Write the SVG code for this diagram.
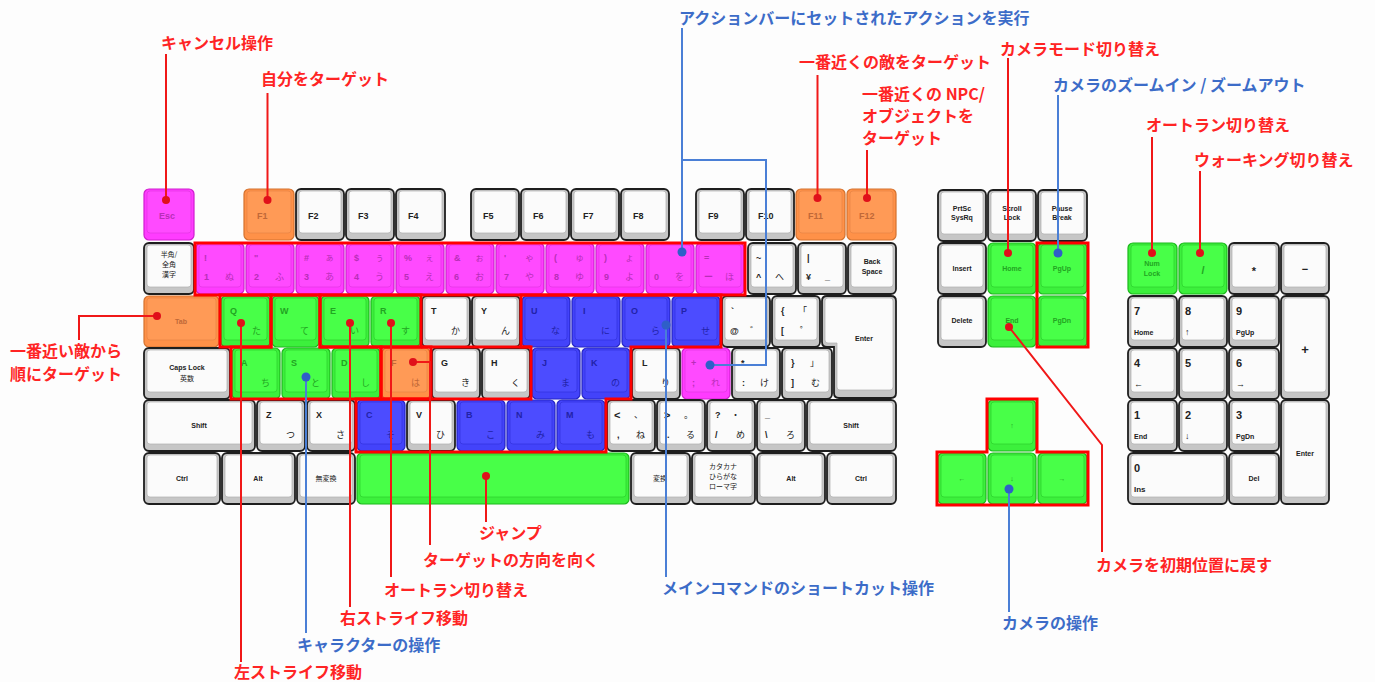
<svg xmlns="http://www.w3.org/2000/svg" width="1375" height="682" viewBox="0 0 1375 682">
<style>
.w0{fill:#c6c6c6;stroke:#1e1e1e;stroke-width:1.8}
.w1{fill:#fbfbfb;stroke:#b0b0b0;stroke-width:.7}
.p0{fill:#ff3cff;stroke:#cf1fcf;stroke-width:1.2}
.p1{fill:#ff4aff;stroke:#e233e2;stroke-width:.7}
.o0{fill:#ff9148;stroke:#d4722f;stroke-width:1.2}
.o1{fill:#ff9a56;stroke:#e68446;stroke-width:.7}
.g0{fill:#3cf03c;stroke:#1cb81c;stroke-width:1.2}
.g1{fill:#48ff48;stroke:#2bcf2b;stroke-width:.7}
.b0{fill:#4343fa;stroke:#2424c4;stroke-width:1.2}
.b1{fill:#4c4cff;stroke:#3232dc;stroke-width:.7}
.ro{fill:none;stroke:#ff0000;stroke-width:3}
.lr{fill:none;stroke:#f01818;stroke-width:2}
.lb{fill:none;stroke:#4a7fd6;stroke-width:2}
.dr{fill:#e0101a}
.db{fill:#2f5fc8}
.tr{font-family:"Noto Sans CJK JP",sans-serif;font-size:16px;font-weight:bold;fill:#ff2424}
.tb{font-family:"Noto Sans CJK JP",sans-serif;font-size:16px;font-weight:bold;fill:#3c6cc8}
.k{font-family:"Liberation Sans","Noto Sans CJK JP",sans-serif;font-size:9px;font-weight:bold;fill:#222}
.kj{font-family:"Noto Sans CJK JP",sans-serif;font-weight:normal}
.c{text-anchor:middle;font-size:7px}
.n{font-size:11px}
.cp{fill:#b82eb8}
.co{fill:#c06838}
.cg{fill:#22a422}
.cb{fill:#2222a8}
</style>
<rect width="1375" height="682" fill="#fdfdfd"/>

<!-- F row -->
<g id="key-esc"><rect class="p0" x="144" y="189" width="50" height="51" rx="5"/><rect class="p1" x="147" y="191" width="44" height="42" rx="3"/><text class="k cp" x="159" y="219">Esc</text></g>
<g id="key-f1"><rect class="o0" x="244" y="189" width="50" height="51" rx="5"/><rect class="o1" x="247" y="191" width="44" height="42" rx="3"/><text class="k co" x="257" y="219">F1</text></g>
<g id="key-f2"><rect class="w0" x="296" y="189" width="48" height="51" rx="5"/><rect class="w1" x="299" y="191" width="42" height="42" rx="3"/><text class="k" x="308" y="219">F2</text></g>
<g id="key-f3"><rect class="w0" x="346" y="189" width="48" height="51" rx="5"/><rect class="w1" x="349" y="191" width="42" height="42" rx="3"/><text class="k" x="358" y="219">F3</text></g>
<g id="key-f4"><rect class="w0" x="396" y="189" width="49" height="51" rx="5"/><rect class="w1" x="399" y="191" width="43" height="42" rx="3"/><text class="k" x="408" y="219">F4</text></g>
<g id="key-f5"><rect class="w0" x="471" y="189" width="48" height="51" rx="5"/><rect class="w1" x="474" y="191" width="42" height="42" rx="3"/><text class="k" x="483" y="219">F5</text></g>
<g id="key-f6"><rect class="w0" x="521" y="189" width="48" height="51" rx="5"/><rect class="w1" x="524" y="191" width="42" height="42" rx="3"/><text class="k" x="533" y="219">F6</text></g>
<g id="key-f7"><rect class="w0" x="571" y="189" width="48" height="51" rx="5"/><rect class="w1" x="574" y="191" width="42" height="42" rx="3"/><text class="k" x="583" y="219">F7</text></g>
<g id="key-f8"><rect class="w0" x="621" y="189" width="48" height="51" rx="5"/><rect class="w1" x="624" y="191" width="42" height="42" rx="3"/><text class="k" x="633" y="219">F8</text></g>
<g id="key-f9"><rect class="w0" x="696" y="189" width="48" height="51" rx="5"/><rect class="w1" x="699" y="191" width="42" height="42" rx="3"/><text class="k" x="708" y="219">F9</text></g>
<g id="key-f10"><rect class="w0" x="746" y="189" width="48" height="51" rx="5"/><rect class="w1" x="749" y="191" width="42" height="42" rx="3"/><text class="k" x="758" y="219">F10</text></g>
<g id="key-f11"><rect class="o0" x="796" y="189" width="49" height="51" rx="5"/><rect class="o1" x="799" y="191" width="43" height="42" rx="3"/><text class="k co" x="808" y="219">F11</text></g>
<g id="key-f12"><rect class="o0" x="847" y="189" width="49" height="51" rx="5"/><rect class="o1" x="850" y="191" width="43" height="42" rx="3"/><text class="k co" x="859" y="219">F12</text></g>

<!-- Number row -->
<g id="key-hankaku"><rect class="w0" x="144" y="243" width="50" height="51" rx="5"/><rect class="w1" x="147" y="245" width="44" height="42" rx="3"/><text class="k kj c" x="169" y="257">半角/</text><text class="k kj c" x="169" y="267">全角</text><text class="k kj c" x="169" y="277">漢字</text></g>
<g id="key-1"><rect class="p0" x="196" y="243" width="48" height="51" rx="5"/><rect class="p1" x="199" y="245" width="42" height="42" rx="3"/><text class="k cp" x="204" y="261">!</text><text class="k cp" x="204" y="280">1</text><text class="k kj cp" x="225" y="280">ぬ</text></g>
<g id="key-2"><rect class="p0" x="246" y="243" width="48" height="51" rx="5"/><rect class="p1" x="249" y="245" width="42" height="42" rx="3"/><text class="k cp" x="254" y="261">"</text><text class="k cp" x="254" y="280">2</text><text class="k kj cp" x="275" y="280">ふ</text></g>
<g id="key-3"><rect class="p0" x="296" y="243" width="48" height="51" rx="5"/><rect class="p1" x="299" y="245" width="42" height="42" rx="3"/><text class="k cp" x="304" y="261">#</text><text class="k kj cp" x="325" y="261">ぁ</text><text class="k cp" x="304" y="280">3</text><text class="k kj cp" x="325" y="280">あ</text></g>
<g id="key-4"><rect class="p0" x="346" y="243" width="48" height="51" rx="5"/><rect class="p1" x="349" y="245" width="42" height="42" rx="3"/><text class="k cp" x="354" y="261">$</text><text class="k kj cp" x="375" y="261">ぅ</text><text class="k cp" x="354" y="280">4</text><text class="k kj cp" x="375" y="280">う</text></g>
<g id="key-5"><rect class="p0" x="396" y="243" width="48" height="51" rx="5"/><rect class="p1" x="399" y="245" width="42" height="42" rx="3"/><text class="k cp" x="404" y="261">%</text><text class="k kj cp" x="425" y="261">ぇ</text><text class="k cp" x="404" y="280">5</text><text class="k kj cp" x="425" y="280">え</text></g>
<g id="key-6"><rect class="p0" x="446" y="243" width="48" height="51" rx="5"/><rect class="p1" x="449" y="245" width="42" height="42" rx="3"/><text class="k cp" x="454" y="261">&amp;</text><text class="k kj cp" x="475" y="261">ぉ</text><text class="k cp" x="454" y="280">6</text><text class="k kj cp" x="475" y="280">お</text></g>
<g id="key-7"><rect class="p0" x="496" y="243" width="48" height="51" rx="5"/><rect class="p1" x="499" y="245" width="42" height="42" rx="3"/><text class="k cp" x="504" y="261">'</text><text class="k kj cp" x="525" y="261">ゃ</text><text class="k cp" x="504" y="280">7</text><text class="k kj cp" x="525" y="280">や</text></g>
<g id="key-8"><rect class="p0" x="546" y="243" width="48" height="51" rx="5"/><rect class="p1" x="549" y="245" width="42" height="42" rx="3"/><text class="k cp" x="554" y="261">(</text><text class="k kj cp" x="575" y="261">ゅ</text><text class="k cp" x="554" y="280">8</text><text class="k kj cp" x="575" y="280">ゆ</text></g>
<g id="key-9"><rect class="p0" x="596" y="243" width="48" height="51" rx="5"/><rect class="p1" x="599" y="245" width="42" height="42" rx="3"/><text class="k cp" x="604" y="261">)</text><text class="k kj cp" x="625" y="261">ょ</text><text class="k cp" x="604" y="280">9</text><text class="k kj cp" x="625" y="280">よ</text></g>
<g id="key-0"><rect class="p0" x="646" y="243" width="48" height="51" rx="5"/><rect class="p1" x="649" y="245" width="42" height="42" rx="3"/><text class="k cp" x="654" y="280">0</text><text class="k kj cp" x="675" y="280">を</text></g>
<g id="key-minus"><rect class="p0" x="696" y="243" width="48" height="51" rx="5"/><rect class="p1" x="699" y="245" width="42" height="42" rx="3"/><text class="k cp" x="704" y="261">=</text><text class="k cp" x="704" y="280">ー</text><text class="k kj cp" x="725" y="280">ほ</text></g>
<g id="key-caret"><rect class="w0" x="748" y="243" width="48" height="51" rx="5"/><rect class="w1" x="751" y="245" width="42" height="42" rx="3"/><text class="k" x="756" y="261">~</text><text class="k" x="756" y="280">^</text><text class="k kj" x="775" y="280">へ</text></g>
<g id="key-yen"><rect class="w0" x="798" y="243" width="48" height="51" rx="5"/><rect class="w1" x="801" y="245" width="42" height="42" rx="3"/><text class="k" x="807" y="261">|</text><text class="k" x="806" y="280">¥</text><text class="k" x="825" y="280">_</text></g>
<g id="key-bs"><rect class="w0" x="848" y="243" width="48" height="51" rx="5"/><rect class="w1" x="851" y="245" width="42" height="42" rx="3"/><text class="k c" x="872" y="264">Back</text><text class="k c" x="872" y="274">Space</text></g>

<!-- Tab row -->
<g id="key-tab"><rect class="o0" x="144" y="296" width="75" height="51" rx="5"/><rect class="o1" x="147" y="298" width="69" height="42" rx="3"/><text class="k c co" x="181" y="324">Tab</text></g>
<g id="key-q"><rect class="g0" x="221" y="296" width="49" height="51" rx="5"/><rect class="g1" x="224" y="298" width="43" height="42" rx="3"/><text class="k cg" x="230" y="314">Q</text><text class="k kj cg" x="252" y="334">た</text></g>
<g id="key-w"><rect class="g0" x="272" y="296" width="47" height="51" rx="5"/><rect class="g1" x="275" y="298" width="41" height="42" rx="3"/><text class="k cg" x="280" y="314">W</text><text class="k kj cg" x="300" y="334">て</text></g>
<g id="key-e"><rect class="g0" x="321" y="296" width="48" height="51" rx="5"/><rect class="g1" x="324" y="298" width="42" height="42" rx="3"/><text class="k cg" x="330" y="314">E</text><text class="k kj cg" x="350" y="334">い</text></g>
<g id="key-r"><rect class="g0" x="371" y="296" width="49" height="51" rx="5"/><rect class="g1" x="374" y="298" width="43" height="42" rx="3"/><text class="k cg" x="380" y="314">R</text><text class="k kj cg" x="401" y="334">す</text></g>
<g id="key-t"><rect class="w0" x="422" y="296" width="48" height="51" rx="5"/><rect class="w1" x="425" y="298" width="42" height="42" rx="3"/><text class="k" x="431" y="314">T</text><text class="k kj" x="451" y="334">か</text></g>
<g id="key-y"><rect class="w0" x="472" y="296" width="48" height="51" rx="5"/><rect class="w1" x="475" y="298" width="42" height="42" rx="3"/><text class="k" x="481" y="314">Y</text><text class="k kj" x="501" y="334">ん</text></g>
<g id="key-u"><rect class="b0" x="522" y="296" width="48" height="51" rx="5"/><rect class="b1" x="525" y="298" width="42" height="42" rx="3"/><text class="k cb" x="531" y="314">U</text><text class="k kj cb" x="551" y="334">な</text></g>
<g id="key-i"><rect class="b0" x="572" y="296" width="48" height="51" rx="5"/><rect class="b1" x="575" y="298" width="42" height="42" rx="3"/><text class="k cb" x="583" y="314">I</text><text class="k kj cb" x="601" y="334">に</text></g>
<g id="key-o"><rect class="b0" x="622" y="296" width="48" height="51" rx="5"/><rect class="b1" x="625" y="298" width="42" height="42" rx="3"/><text class="k cb" x="631" y="314">O</text><text class="k kj cb" x="651" y="334">ら</text></g>
<g id="key-p"><rect class="b0" x="672" y="296" width="48" height="51" rx="5"/><rect class="b1" x="675" y="298" width="42" height="42" rx="3"/><text class="k cb" x="681" y="314">P</text><text class="k kj cb" x="701" y="334">せ</text></g>
<g id="key-at"><rect class="w0" x="722" y="296" width="48" height="51" rx="5"/><rect class="w1" x="725" y="298" width="42" height="42" rx="3"/><text class="k" x="731" y="314">`</text><text class="k" x="730" y="334">@</text><text class="k kj" x="750" y="334">゛</text></g>
<g id="key-lbracket"><rect class="w0" x="772" y="296" width="48" height="51" rx="5"/><rect class="w1" x="775" y="298" width="42" height="42" rx="3"/><text class="k" x="781" y="314">{</text><text class="k kj" x="798" y="314">「</text><text class="k" x="781" y="334">[</text><text class="k kj" x="800" y="334">゜</text></g>
<g id="key-enter"><path class="w0" d="M827,296 H891 Q896,296 896,301 V393 Q896,398 891,398 H839 Q834,398 834,393 V347 H827 Q822,347 822,342 V301 Q822,296 827,296 Z"/><path class="w1" d="M828,298 H890 Q893,298 893,301 V387 Q893,390 890,390 H840 Q837,390 837,387 V343 H828 Q825,343 825,340 V301 Q825,298 828,298 Z"/><text class="k c" x="864" y="341">Enter</text></g>

<!-- Caps row -->
<g id="key-caps"><rect class="w0" x="144" y="348" width="86" height="51" rx="5"/><rect class="w1" x="147" y="350" width="80" height="42" rx="3"/><text class="k c" x="187" y="370">Caps Lock</text><text class="k kj c" x="187" y="381">英数</text></g>
<g id="key-a"><rect class="g0" x="232" y="348" width="48" height="51" rx="5"/><rect class="g1" x="235" y="350" width="42" height="42" rx="3"/><text class="k cg" x="241" y="366">A</text><text class="k kj cg" x="261" y="386">ち</text></g>
<g id="key-s"><rect class="g0" x="282" y="348" width="48" height="51" rx="5"/><rect class="g1" x="285" y="350" width="42" height="42" rx="3"/><text class="k cg" x="291" y="366">S</text><text class="k kj cg" x="311" y="386">と</text></g>
<g id="key-d"><rect class="g0" x="332" y="348" width="48" height="51" rx="5"/><rect class="g1" x="335" y="350" width="42" height="42" rx="3"/><text class="k cg" x="341" y="366">D</text><text class="k kj cg" x="361" y="386">し</text></g>
<g id="key-f"><rect class="o0" x="382" y="348" width="48" height="51" rx="5"/><rect class="o1" x="385" y="350" width="42" height="42" rx="3"/><text class="k co" x="391" y="366">F</text><text class="k kj co" x="411" y="386">は</text></g>
<g id="key-g"><rect class="w0" x="432" y="348" width="48" height="51" rx="5"/><rect class="w1" x="435" y="350" width="42" height="42" rx="3"/><text class="k" x="441" y="366">G</text><text class="k kj" x="461" y="386">き</text></g>
<g id="key-h"><rect class="w0" x="482" y="348" width="48" height="51" rx="5"/><rect class="w1" x="485" y="350" width="42" height="42" rx="3"/><text class="k" x="491" y="366">H</text><text class="k kj" x="511" y="386">く</text></g>
<g id="key-j"><rect class="b0" x="532" y="348" width="48" height="51" rx="5"/><rect class="b1" x="535" y="350" width="42" height="42" rx="3"/><text class="k cb" x="542" y="366">J</text><text class="k kj cb" x="561" y="386">ま</text></g>
<g id="key-k"><rect class="b0" x="582" y="348" width="48" height="51" rx="5"/><rect class="b1" x="585" y="350" width="42" height="42" rx="3"/><text class="k cb" x="591" y="366">K</text><text class="k kj cb" x="611" y="386">の</text></g>
<g id="key-l"><rect class="w0" x="632" y="348" width="48" height="51" rx="5"/><rect class="w1" x="635" y="350" width="42" height="42" rx="3"/><text class="k" x="642" y="366">L</text><text class="k kj" x="661" y="386">り</text></g>
<g id="key-semicolon"><rect class="p0" x="682" y="348" width="48" height="51" rx="5"/><rect class="p1" x="685" y="350" width="42" height="42" rx="3"/><text class="k cp" x="691" y="366">+</text><text class="k cp" x="692" y="386">;</text><text class="k kj cp" x="711" y="386">れ</text></g>
<g id="key-colon"><rect class="w0" x="732" y="348" width="48" height="51" rx="5"/><rect class="w1" x="735" y="350" width="42" height="42" rx="3"/><text class="k" x="741" y="366">*</text><text class="k" x="742" y="386">:</text><text class="k kj" x="760" y="386">け</text></g>
<g id="key-rbracket"><rect class="w0" x="782" y="348" width="50" height="51" rx="5"/><rect class="w1" x="785" y="350" width="44" height="42" rx="3"/><text class="k" x="791" y="366">}</text><text class="k kj" x="810" y="366">」</text><text class="k" x="791" y="386">]</text><text class="k kj" x="811" y="386">む</text></g>

<!-- Shift row -->
<g id="key-lshift"><rect class="w0" x="144" y="400" width="111" height="51" rx="5"/><rect class="w1" x="147" y="402" width="105" height="42" rx="3"/><text class="k c" x="199" y="428">Shift</text></g>
<g id="key-z"><rect class="w0" x="257" y="400" width="48" height="51" rx="5"/><rect class="w1" x="260" y="402" width="42" height="42" rx="3"/><text class="k" x="266" y="418">Z</text><text class="k kj" x="286" y="438">つ</text></g>
<g id="key-x"><rect class="w0" x="307" y="400" width="48" height="51" rx="5"/><rect class="w1" x="310" y="402" width="42" height="42" rx="3"/><text class="k" x="316" y="418">X</text><text class="k kj" x="336" y="438">さ</text></g>
<g id="key-c"><rect class="b0" x="357" y="400" width="48" height="51" rx="5"/><rect class="b1" x="360" y="402" width="42" height="42" rx="3"/><text class="k cb" x="366" y="418">C</text><text class="k kj cb" x="386" y="438">そ</text></g>
<g id="key-v"><rect class="w0" x="407" y="400" width="48" height="51" rx="5"/><rect class="w1" x="410" y="402" width="42" height="42" rx="3"/><text class="k" x="416" y="418">V</text><text class="k kj" x="436" y="438">ひ</text></g>
<g id="key-b"><rect class="b0" x="457" y="400" width="48" height="51" rx="5"/><rect class="b1" x="460" y="402" width="42" height="42" rx="3"/><text class="k cb" x="466" y="418">B</text><text class="k kj cb" x="486" y="438">こ</text></g>
<g id="key-n"><rect class="b0" x="507" y="400" width="48" height="51" rx="5"/><rect class="b1" x="510" y="402" width="42" height="42" rx="3"/><text class="k cb" x="516" y="418">N</text><text class="k kj cb" x="536" y="438">み</text></g>
<g id="key-m"><rect class="b0" x="557" y="400" width="48" height="51" rx="5"/><rect class="b1" x="560" y="402" width="42" height="42" rx="3"/><text class="k cb" x="566" y="418">M</text><text class="k kj cb" x="586" y="438">も</text></g>
<g id="key-comma"><rect class="w0" x="607" y="400" width="48" height="51" rx="5"/><rect class="w1" x="610" y="402" width="42" height="42" rx="3"/><text class="k n" x="614" y="419">&lt;</text><text class="k kj" x="634" y="418">、</text><text class="k" x="617" y="438">,</text><text class="k kj" x="636" y="438">ね</text></g>
<g id="key-period"><rect class="w0" x="657" y="400" width="48" height="51" rx="5"/><rect class="w1" x="660" y="402" width="42" height="42" rx="3"/><text class="k n" x="664" y="419">&gt;</text><text class="k kj" x="684" y="418">。</text><text class="k" x="667" y="438">.</text><text class="k kj" x="686" y="438">る</text></g>
<g id="key-slash"><rect class="w0" x="707" y="400" width="48" height="51" rx="5"/><rect class="w1" x="710" y="402" width="42" height="42" rx="3"/><text class="k" x="715" y="418">?</text><text class="k kj" x="731" y="418">・</text><text class="k" x="715" y="438">/</text><text class="k kj" x="736" y="438">め</text></g>
<g id="key-backslash"><rect class="w0" x="757" y="400" width="48" height="51" rx="5"/><rect class="w1" x="760" y="402" width="42" height="42" rx="3"/><text class="k" x="765" y="418">_</text><text class="k" x="765" y="438">\</text><text class="k kj" x="786" y="438">ろ</text></g>
<g id="key-rshift"><rect class="w0" x="807" y="400" width="89" height="51" rx="5"/><rect class="w1" x="810" y="402" width="83" height="42" rx="3"/><text class="k c" x="851" y="428">Shift</text></g>

<!-- Bottom row -->
<g id="key-lctrl"><rect class="w0" x="144" y="453" width="76" height="51" rx="5"/><rect class="w1" x="147" y="455" width="70" height="42" rx="3"/><text class="k c" x="182" y="481">Ctrl</text></g>
<g id="key-lalt"><rect class="w0" x="222" y="453" width="73" height="51" rx="5"/><rect class="w1" x="225" y="455" width="67" height="42" rx="3"/><text class="k c" x="258" y="481">Alt</text></g>
<g id="key-muhenkan"><rect class="w0" x="297" y="453" width="58" height="51" rx="5"/><rect class="w1" x="300" y="455" width="52" height="42" rx="3"/><text class="k kj c" x="326" y="481">無変換</text></g>
<g id="key-space"><rect class="g0" x="357" y="453" width="272" height="51" rx="5"/><rect class="g1" x="360" y="455" width="266" height="42" rx="3"/></g>
<g id="key-henkan"><rect class="w0" x="631" y="453" width="59" height="51" rx="5"/><rect class="w1" x="634" y="455" width="53" height="42" rx="3"/><text class="k kj c" x="660" y="481">変換</text></g>
<g id="key-kana"><rect class="w0" x="692" y="453" width="63" height="51" rx="5"/><rect class="w1" x="695" y="455" width="57" height="42" rx="3"/><text class="k kj c" x="723" y="469">カタカナ</text><text class="k kj c" x="723" y="479">ひらがな</text><text class="k kj c" x="723" y="489">ローマ字</text></g>
<g id="key-ralt"><rect class="w0" x="757" y="453" width="68" height="51" rx="5"/><rect class="w1" x="760" y="455" width="62" height="42" rx="3"/><text class="k c" x="791" y="481">Alt</text></g>
<g id="key-rctrl"><rect class="w0" x="827" y="453" width="69" height="51" rx="5"/><rect class="w1" x="830" y="455" width="63" height="42" rx="3"/><text class="k c" x="861" y="481">Ctrl</text></g>

<!-- Navigation cluster -->
<g id="key-prtsc"><rect class="w0" x="938" y="190" width="48" height="51" rx="5"/><rect class="w1" x="941" y="192" width="42" height="42" rx="3"/><text class="k c" x="962" y="211">PrtSc</text><text class="k c" x="962" y="220">SysRq</text></g>
<g id="key-scroll"><rect class="w0" x="988" y="190" width="48" height="51" rx="5"/><rect class="w1" x="991" y="192" width="42" height="42" rx="3"/><text class="k c" x="1012" y="211">Scroll</text><text class="k c" x="1012" y="220">Lock</text></g>
<g id="key-pause"><rect class="w0" x="1038" y="190" width="49" height="51" rx="5"/><rect class="w1" x="1041" y="192" width="43" height="42" rx="3"/><text class="k c" x="1062" y="211">Pause</text><text class="k c" x="1062" y="220">Break</text></g>
<g id="key-insert"><rect class="w0" x="938" y="243" width="48" height="51" rx="5"/><rect class="w1" x="941" y="245" width="42" height="42" rx="3"/><text class="k c" x="962" y="271">Insert</text></g>
<g id="key-home"><rect class="g0" x="988" y="243" width="48" height="51" rx="5"/><rect class="g1" x="991" y="245" width="42" height="42" rx="3"/><text class="k c cg" x="1012" y="271">Home</text></g>
<g id="key-pgup"><rect class="g0" x="1038" y="243" width="49" height="51" rx="5"/><rect class="g1" x="1041" y="245" width="43" height="42" rx="3"/><text class="k c cg" x="1062" y="271">PgUp</text></g>
<g id="key-delete"><rect class="w0" x="938" y="296" width="48" height="51" rx="5"/><rect class="w1" x="941" y="298" width="42" height="42" rx="3"/><text class="k c" x="962" y="323">Delete</text></g>
<g id="key-end"><rect class="g0" x="988" y="296" width="48" height="51" rx="5"/><rect class="g1" x="991" y="298" width="42" height="42" rx="3"/><text class="k c cg" x="1012" y="323">End</text></g>
<g id="key-pgdn"><rect class="g0" x="1038" y="296" width="49" height="51" rx="5"/><rect class="g1" x="1041" y="298" width="43" height="42" rx="3"/><text class="k c cg" x="1062" y="323">PgDn</text></g>
<g id="key-up"><rect class="g0" x="988" y="400" width="48" height="51" rx="5"/><rect class="g1" x="991" y="402" width="42" height="42" rx="3"/><text class="k c cg" x="1012" y="428">↑</text></g>
<g id="key-left"><rect class="g0" x="938" y="453" width="48" height="51" rx="5"/><rect class="g1" x="941" y="455" width="42" height="42" rx="3"/><text class="k c cg" x="962" y="481">←</text></g>
<g id="key-down"><rect class="g0" x="988" y="453" width="48" height="51" rx="5"/><rect class="g1" x="991" y="455" width="42" height="42" rx="3"/><text class="k c cg" x="1012" y="481">↓</text></g>
<g id="key-right"><rect class="g0" x="1038" y="453" width="49" height="51" rx="5"/><rect class="g1" x="1041" y="455" width="43" height="42" rx="3"/><text class="k c cg" x="1062" y="481">→</text></g>

<!-- Numpad -->
<g id="key-numlock"><rect class="g0" x="1128" y="243" width="49" height="51" rx="5"/><rect class="g1" x="1131" y="245" width="43" height="42" rx="3"/><text class="k c cg" x="1152" y="266">Num</text><text class="k c cg" x="1152" y="276">Lock</text></g>
<g id="key-numdiv"><rect class="g0" x="1179" y="243" width="48" height="51" rx="5"/><rect class="g1" x="1182" y="245" width="42" height="42" rx="3"/><text class="k c n cg" x="1203" y="274">/</text></g>
<g id="key-nummul"><rect class="w0" x="1229" y="243" width="50" height="51" rx="5"/><rect class="w1" x="1232" y="245" width="44" height="42" rx="3"/><text class="k c n" x="1254" y="275">*</text></g>
<g id="key-numsub"><rect class="w0" x="1281" y="243" width="48" height="51" rx="5"/><rect class="w1" x="1284" y="245" width="42" height="42" rx="3"/><text class="k c n" x="1305" y="273">−</text></g>
<g id="key-num7"><rect class="w0" x="1128" y="296" width="49" height="51" rx="5"/><rect class="w1" x="1131" y="298" width="43" height="42" rx="3"/><text class="k n" x="1134" y="315">7</text><text class="k" x="1134" y="335" style="font-size:7px">Home</text></g>
<g id="key-num8"><rect class="w0" x="1179" y="296" width="48" height="51" rx="5"/><rect class="w1" x="1182" y="298" width="42" height="42" rx="3"/><text class="k n" x="1185" y="315">8</text><text class="k" x="1185" y="335">↑</text></g>
<g id="key-num9"><rect class="w0" x="1229" y="296" width="50" height="51" rx="5"/><rect class="w1" x="1232" y="298" width="44" height="42" rx="3"/><text class="k n" x="1236" y="315">9</text><text class="k" x="1236" y="335" style="font-size:7px">PgUp</text></g>
<g id="key-numadd"><rect class="w0" x="1281" y="296" width="48" height="103" rx="5"/><rect class="w1" x="1284" y="298" width="42" height="94" rx="3"/><text class="k c" x="1305" y="354" style="font-size:13px">+</text></g>
<g id="key-num4"><rect class="w0" x="1128" y="348" width="49" height="51" rx="5"/><rect class="w1" x="1131" y="350" width="43" height="42" rx="3"/><text class="k n" x="1134" y="367">4</text><text class="k" x="1134" y="387">←</text></g>
<g id="key-num5"><rect class="w0" x="1179" y="348" width="48" height="51" rx="5"/><rect class="w1" x="1182" y="350" width="42" height="42" rx="3"/><text class="k n" x="1185" y="367">5</text></g>
<g id="key-num6"><rect class="w0" x="1229" y="348" width="50" height="51" rx="5"/><rect class="w1" x="1232" y="350" width="44" height="42" rx="3"/><text class="k n" x="1236" y="367">6</text><text class="k" x="1236" y="387">→</text></g>
<g id="key-num1"><rect class="w0" x="1128" y="400" width="49" height="51" rx="5"/><rect class="w1" x="1131" y="402" width="43" height="42" rx="3"/><text class="k n" x="1134" y="419">1</text><text class="k" x="1134" y="439" style="font-size:7px">End</text></g>
<g id="key-num2"><rect class="w0" x="1179" y="400" width="48" height="51" rx="5"/><rect class="w1" x="1182" y="402" width="42" height="42" rx="3"/><text class="k n" x="1185" y="419">2</text><text class="k" x="1185" y="439">↓</text></g>
<g id="key-num3"><rect class="w0" x="1229" y="400" width="50" height="51" rx="5"/><rect class="w1" x="1232" y="402" width="44" height="42" rx="3"/><text class="k n" x="1236" y="419">3</text><text class="k" x="1236" y="439" style="font-size:7px">PgDn</text></g>
<g id="key-numenter"><rect class="w0" x="1281" y="400" width="48" height="104" rx="5"/><rect class="w1" x="1284" y="402" width="42" height="95" rx="3"/><text class="k c" x="1305" y="456">Enter</text></g>
<g id="key-num0"><rect class="w0" x="1128" y="453" width="99" height="51" rx="5"/><rect class="w1" x="1131" y="455" width="93" height="42" rx="3"/><text class="k n" x="1134" y="472">0</text><text class="k" x="1134" y="492" style="font-size:8px">Ins</text></g>
<g id="key-numdel"><rect class="w0" x="1229" y="453" width="50" height="51" rx="5"/><rect class="w1" x="1232" y="455" width="44" height="42" rx="3"/><text class="k c" x="1254" y="481">Del</text></g>

<!-- Red group outlines -->
<g id="group-outlines">
<rect class="ro" x="195" y="243" width="550" height="52"/>
<rect class="ro" x="220" y="295" width="51" height="52"/>
<polygon class="ro" points="231,347 271,347 271,295 320,295 320,347 381,347 381,399 231,399"/>
<rect class="ro" x="320" y="295" width="101" height="52"/>
<rect class="ro" x="381" y="347" width="50" height="52"/>
<line class="ro" x1="421" y1="347" x2="531" y2="347"/>
<polygon class="ro" points="356,399 531,399 531,347 521,347 521,295 721,295 721,347 631,347 631,399 606,399 606,452 356,452"/>
<rect class="ro" x="1037" y="243" width="51" height="104"/>
<polygon class="ro" points="937,452 987,452 987,399 1037,399 1037,452 1088,452 1088,505 937,505"/>
</g>

<!-- Connectors -->
<g id="connectors">
<polyline class="lr" points="166,54 166,200"/>
<polyline class="lr" points="267.5,93 267.5,200"/>
<polyline class="lb" points="682,28 682,252"/>
<polyline class="lb" points="682,160 766,160 766,365 710,365"/>
<polyline class="lr" points="817.5,75 817.5,198"/>
<polyline class="lr" points="867,150 867,198"/>
<polyline class="lr" points="1008,58 1008,253"/>
<polyline class="lb" points="1058,95 1058,253"/>
<polyline class="lr" points="1152,137 1152,253"/>
<polyline class="lr" points="1200,171 1200,253"/>
<polyline class="lr" points="79,340 79,316 157,316"/>
<polyline class="lr" points="241,323 241,662"/>
<polyline class="lr" points="350,323 350,607"/>
<polyline class="lr" points="391,323 391,577"/>
<polyline class="lb" points="306,377 306,633"/>
<polyline class="lr" points="413,362 430,362 430,545"/>
<polyline class="lr" points="486,476 486,522"/>
<polyline class="lb" points="666,325 666,577"/>
<polyline class="lb" points="1009,489 1009,612"/>
<polyline class="lr" points="1009,327 1102,445 1102,552"/>
<circle class="dr" cx="166" cy="200" r="4"/>
<circle class="dr" cx="267.5" cy="200" r="4"/>
<circle class="db" cx="682" cy="252" r="4.5"/>
<circle class="db" cx="710" cy="365" r="4.5"/>
<circle class="dr" cx="817.5" cy="198" r="4"/>
<circle class="dr" cx="867" cy="198" r="4"/>
<circle class="dr" cx="1008" cy="253" r="4"/>
<circle class="db" cx="1058" cy="253" r="4.5"/>
<circle class="dr" cx="1152" cy="253" r="4"/>
<circle class="dr" cx="1200" cy="253" r="4"/>
<circle class="dr" cx="157" cy="316" r="4"/>
<circle class="dr" cx="241" cy="323" r="4"/>
<circle class="dr" cx="350" cy="323" r="4"/>
<circle class="dr" cx="391" cy="323" r="4"/>
<circle class="db" cx="306" cy="377" r="4.5"/>
<circle class="dr" cx="413" cy="362" r="4"/>
<circle class="dr" cx="486" cy="476" r="4"/>
<circle class="db" cx="666" cy="325" r="4.5"/>
<circle class="db" cx="1009" cy="489" r="4.5"/>
<circle class="dr" cx="1009" cy="327" r="4"/>
</g>

<!-- Labels -->
<g id="label-cancel"><text class="tr" x="161" y="49">キャンセル操作</text></g>
<g id="label-self"><text class="tr" x="261" y="85">自分をターゲット</text></g>
<g id="label-actionbar"><text class="tb" x="679" y="24">アクションバーにセットされたアクションを実行</text></g>
<g id="label-nearest-enemy"><text class="tr" x="799" y="68">一番近くの敵をターゲット</text></g>
<g id="label-nearest-npc"><text class="tr" x="862" y="100">一番近くの NPC/</text><text class="tr" x="862" y="122">オブジェクトを</text><text class="tr" x="862" y="144">ターゲット</text></g>
<g id="label-cameramode"><text class="tr" x="1000" y="55">カメラモード切り替え</text></g>
<g id="label-zoom"><text class="tb" x="1053" y="91">カメラのズームイン / ズームアウト</text></g>
<g id="label-autorun2"><text class="tr" x="1146" y="131">オートラン切り替え</text></g>
<g id="label-walk"><text class="tr" x="1194" y="166">ウォーキング切り替え</text></g>
<g id="label-cycle"><text class="tr" x="10" y="357">一番近い敵から</text><text class="tr" x="10" y="380">順にターゲット</text></g>
<g id="label-jump"><text class="tr" x="479" y="539">ジャンプ</text></g>
<g id="label-face"><text class="tr" x="423" y="566">ターゲットの方向を向く</text></g>
<g id="label-autorun"><text class="tr" x="384" y="596">オートラン切り替え</text></g>
<g id="label-rstrafe"><text class="tr" x="340" y="624">右ストライフ移動</text></g>
<g id="label-char"><text class="tb" x="297" y="651">キャラクターの操作</text></g>
<g id="label-lstrafe"><text class="tr" x="234" y="678">左ストライフ移動</text></g>
<g id="label-maincmd"><text class="tb" x="662" y="594">メインコマンドのショートカット操作</text></g>
<g id="label-camera"><text class="tb" x="1002" y="629">カメラの操作</text></g>
<g id="label-camreset"><text class="tr" x="1096" y="571">カメラを初期位置に戻す</text></g>
</svg>
